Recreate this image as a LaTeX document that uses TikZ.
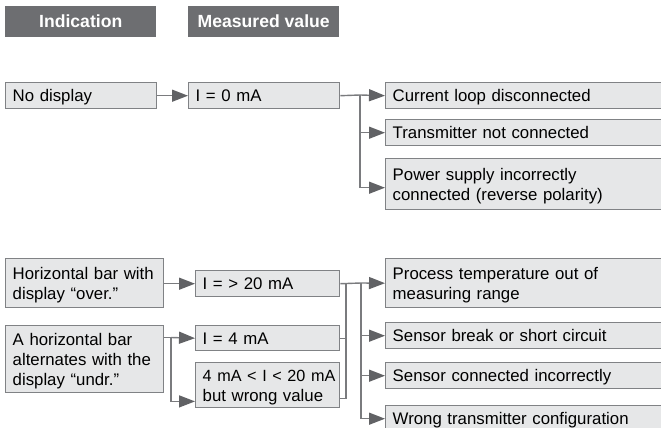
\documentclass[tikz,border=0pt]{standalone}
\usepackage{fontspec}
\setmainfont{Liberation Sans}
\usetikzlibrary{arrows.meta}
\definecolor{hdr}{HTML}{6D6E71}
\definecolor{boxfill}{HTML}{E6E7E8}
\definecolor{boxline}{HTML}{808285}
\definecolor{lin}{HTML}{7A7B7E}
\definecolor{tip}{HTML}{616265}
\begin{document}
\begin{tikzpicture}[x=1pt,y=-1pt,
  box/.style={draw=boxline, line width=1.4pt, fill=boxfill, anchor=north west,
    inner xsep=7pt, inner ysep=0pt, align=left,
    font=\fontsize{16.8}{20}\selectfont, text height=12pt, text depth=0pt},
  two/.style={text depth=20pt},
  three/.style={text depth=40pt},
  hdrbox/.style={fill=hdr, text=white, anchor=north west, inner sep=0pt,
    font=\fontsize{17.6}{20}\selectfont\bfseries, text height=12pt, text depth=0pt, align=center},
  con/.style={draw=lin, line width=1.4pt},
  arr/.style={con, -{Triangle[length=16pt,width=12pt,fill=tip,color=tip]}},
]
\useasboundingbox (0,0) rectangle (661,428);
\clip (0,0) rectangle (661,428);

% headers
\node[hdrbox, minimum width=151pt, minimum height=31pt] (hI) at (5,6) {Indication};
\node[hdrbox, minimum width=151pt, minimum height=31pt] (hM) at (188,6) {Measured value};

% upper group
\node[box, minimum width=151pt, text width=137pt, minimum height=26pt] (nodisp) at (5,82) {No display};
\node[box, minimum width=151pt, text width=137pt, minimum height=26pt] (i0) at (188,82) {I = 0 mA};
\node[box, minimum width=300pt, text width=286pt, minimum height=26pt] (r1) at (385,82) {Current loop disconnected};
\node[box, minimum width=300pt, text width=286pt, minimum height=26pt] (r2) at (385,119) {Transmitter not connected};
\node[box, two, minimum width=300pt, text width=286pt, minimum height=51pt] (r3) at (385,158) {Power supply incorrectly\\connected (reverse polarity)};

% lower group
\node[box, two, minimum width=158pt, text width=144pt, minimum height=49pt] (hbar) at (5,258) {Horizontal bar with\\display “over.”};
\node[box, three, minimum width=158pt, text width=144pt, minimum height=67pt] (ahbar) at (5,325) {A horizontal bar\\alternates with the\\display “undr.”};
\node[box, minimum width=144pt, text width=130pt, minimum height=26pt] (i20) at (195,270) {I = > 20 mA};
\node[box, minimum width=144pt, text width=130pt, minimum height=25pt] (i4) at (195,325) {I = 4 mA};
\node[box, two, minimum width=144pt, text width=130pt, minimum height=45pt] (iw) at (195,362) {\mbox{\fontsize{16.2}{20}\selectfont 4 mA < I < 20 mA}\\but wrong value};
\node[box, two, minimum width=300pt, text width=286pt, minimum height=49pt] (p1) at (385,258) {Process temperature out of\\measuring range};
\node[box, minimum width=300pt, text width=286pt, minimum height=26pt] (p2) at (385,322) {Sensor break or short circuit};
\node[box, minimum width=300pt, text width=286pt, minimum height=26pt] (p3) at (385,362) {Sensor connected incorrectly};
\node[box, minimum width=300pt, text width=286pt, minimum height=26pt] (p4) at (385,405) {Wrong transmitter configuration};

% upper connectors
\draw[arr] (nodisp.east) -- (i0.west);
\coordinate (ja) at (360,95);
\draw[con] (i0.east) -- (ja);
\draw[arr] (ja) -- (r1.west);
\draw[arr] (ja) |- (r2.west);
\draw[arr] (ja) |- ([yshift=-3.5pt]r3.west);

% lower connectors
\draw[arr] (hbar.east |- i20.west) -- (i20.west);
\coordinate (jb) at (171,337.5);
\draw[con] (ahbar.east |- jb) -- (jb);
\draw[arr] (jb) -- (i4.west);
\draw[arr] (jb) |- ([yshift=7pt]iw.south west);

\coordinate (jc) at (346,283);
\coordinate (jd) at (361,283);
\draw[con] (i20.east) -- (jd);
\draw[con] (i4.east) -| (jc);
\draw[con] ([yshift=10pt]iw.south east) -| (jc);
\draw[arr] (jd) -- (p1.west);
\draw[arr] (jd) |- (p2.west);
\draw[arr] (jd) |- (p3.west);
\draw[arr] (jd) |- (p4.west);
\end{tikzpicture}
\end{document}
